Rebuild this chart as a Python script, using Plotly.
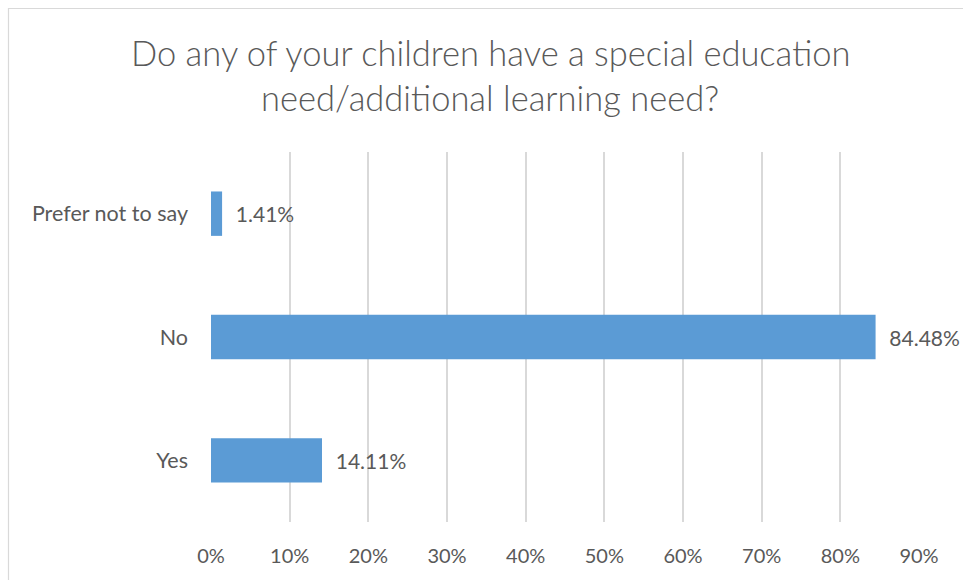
import plotly.graph_objects as go

categories = ["Yes", "No", "Prefer not to say"]
values = [0.1411, 0.8448, 0.0141]
tick_vals = [0, 0.1, 0.2, 0.3, 0.4, 0.5, 0.6, 0.7, 0.8, 0.9]
tick_text = ["0%", "10%", "20%", "30%", "40%", "50%", "60%", "70%", "80%", "90%"]
title_lines = ["Do any of your children have a special education",
               "need/additional learning need?"]

FONT = "Lato, Open Sans, sans-serif"
GREY = "#595959"

W, H = 963, 580
L, R, T, B = 211, 44, 152, 58
pw, ph = W - L - R, H - T - B

fig = go.Figure(go.Bar(
    x=values, y=categories, orientation="h",
    marker=dict(color="#5B9BD5", line=dict(width=0)),
    text=["  {:.2f}%".format(v * 100) for v in values],
    textposition="outside",
    textfont=dict(family=FONT, size=21, color=GREY),
    constraintext="none",
    cliponaxis=False,
    width=0.36,
))

def px_x(p):
    return (p - L) / pw

def px_y(p):
    return (H - B - p) / ph

fig.update_layout(
    width=W, height=H,
    margin=dict(l=L, r=R, t=T, b=B),
    paper_bgcolor="white", plot_bgcolor="white",
    showlegend=False,
    xaxis=dict(range=[0, 0.9], tickvals=tick_vals, ticktext=tick_text,
               showgrid=True, gridcolor="#D9D9D9", gridwidth=1.5,
               zeroline=False, showline=False, ticks="",
               ticklabelstandoff=20,
               tickfont=dict(family=FONT, size=20, color=GREY),
               fixedrange=True),
    yaxis=dict(showgrid=False, zeroline=False, showline=False, ticks="",
               ticklabelstandoff=22,
               tickfont=dict(family=FONT, size=21.5, color=GREY),
               fixedrange=True),
    shapes=[dict(type="rect", xref="paper", yref="paper",
                 x0=px_x(8.5), x1=px_x(975), y0=px_y(595), y1=px_y(8.5),
                 line=dict(color="#D9D9D9", width=1.2), layer="below")],
)

for i, line in enumerate(title_lines):
    fig.add_annotation(
        text=line, xref="paper", yref="paper",
        x=px_x(490), y=px_y(52 + i * 46), xanchor="center", yanchor="middle",
        showarrow=False,
        font=dict(family=FONT, size=34.5, color=GREY, weight=300),
    )

fig.write_html("out.html", config={"displayModeBar": False},
               post_script="document.body.style.margin='0';document.body.style.overflow='hidden';")
